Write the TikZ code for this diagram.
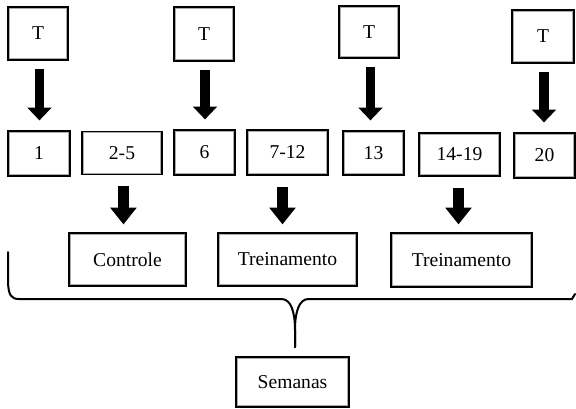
\documentclass[tikz,border=0pt]{standalone}
\usepackage{fontspec}
\setmainfont{Liberation Serif}
\usetikzlibrary{arrows.meta}
\begin{document}
\begin{tikzpicture}[x=0.75pt,y=-0.75pt,
  box/.style={draw=black, line width=0.9pt, rectangle, inner sep=0pt,
    font=\fontsize{14.7}{17}\selectfont,
    path picture={\draw[gray!65, line width=2.6pt] (path picture bounding box.south west) rectangle (path picture bounding box.north east);}},
  toparrow/.style={line width=7.2pt, -{Triangle[width=17.5pt,length=9.5pt]}, shorten <=6pt, shorten >=7.5pt},
  lowarrow/.style={line width=8.2pt, -{Triangle[width=19pt,length=12.5pt]}, shorten <=8.2pt, shorten >=6pt},
  bracel/.style={line width=1.5pt, line cap=round}
]
\useasboundingbox (0,0) rectangle (576,408);
% T boxes
\node[box, minimum width=45pt, minimum height=39.75pt] (T1) at (38,33.5) {T};
\node[box, minimum width=45pt, minimum height=40.5pt] (T2) at (204,34) {T};
\node[box, minimum width=45pt, minimum height=39pt] (T3) at (369,32) {T};
\node[box, minimum width=46.5pt, minimum height=39.75pt] (T4) at (543,36.5) {T};
% week boxes
\node[box, minimum width=46.5pt, minimum height=33.75pt] (b1) at (39,153.5) {1};
\node[box, minimum width=60pt, minimum height=32.25pt] (b25) at (122,153) {2-5};
\node[box, minimum width=45.75pt, minimum height=33.75pt] (b6) at (204.5,152.5) {6};
\node[box, minimum width=60.75pt, minimum height=33.75pt] (b712) at (287.5,152.5) {7-12};
\node[box, minimum width=45.75pt, minimum height=33pt] (b13) at (373.5,153) {13};
\node[box, minimum width=60.75pt, minimum height=32.25pt] (b1419) at (459.5,154.5) {14-19};
\node[box, minimum width=45.75pt, minimum height=33.75pt] (b20) at (544.5,155.5) {20};
% phase boxes
\node[box, minimum width=87.75pt, minimum height=39.75pt] (ctrl) at (127.5,259.5) {Controle};
\node[box, minimum width=104.25pt, minimum height=39.75pt] (tr1) at (287.5,259.5) {Treinamento};
\node[box, minimum width=105.75pt, minimum height=40.5pt] (tr2) at (461.5,260) {Treinamento};
\node[box, minimum width=84.75pt, minimum height=37.5pt] (sem) at (292.5,382) {Semanas};
% top arrows
\draw[toparrow] ([xshift=1.1pt]T1.south) -- ([xshift=1.1pt]T1.south |- b1.north);
\draw[toparrow] ([xshift=0.75pt]T2.south) -- ([xshift=0.75pt]T2.south |- b6.north);
\draw[toparrow] ([xshift=1.1pt]T3.south) -- ([xshift=1.1pt]T3.south |- b13.north);
\draw[toparrow] ([xshift=0.75pt]T4.south) -- ([xshift=0.75pt]T4.south |- b20.north);
% lower arrows
\draw[lowarrow] ([xshift=1.1pt]b25.south) -- ([xshift=1.1pt]b25.south |- ctrl.north);
\draw[lowarrow] ([xshift=-3.75pt]b712.south) -- ([xshift=-3.75pt]b712.south |- tr1.north);
\draw[lowarrow] ([xshift=-0.75pt]b1419.south) -- ([xshift=-0.75pt]b1419.south |- tr2.north);
% brace
\coordinate (bl) at (8,252);
\coordinate (bm) at (295,347);
\coordinate (br) at (575,294);
\draw[bracel] (bl) -- (8,282) .. controls (8.5,295) and (11,299) .. (19,299)
  -- (282,299) .. controls (291,299.5) and (295,312) .. (295,330) -- (bm);
\draw[bracel] (bm) -- (295,330) .. controls (295,312) and (299,299.5) .. (308,299)
  -- (572,299) -- (br);
\end{tikzpicture}
\end{document}
